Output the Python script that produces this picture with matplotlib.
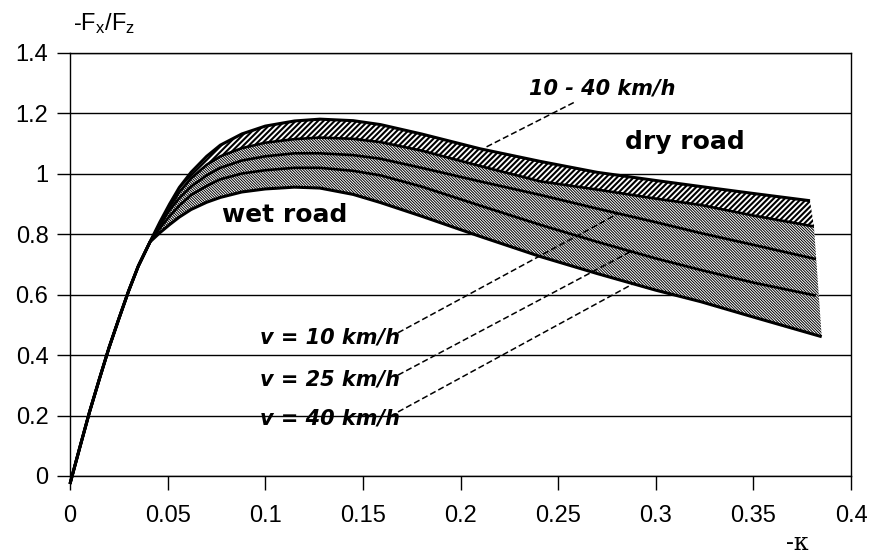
import numpy as np
import matplotlib.pyplot as plt

# gemeinsamer Anstieg aller Kurven
k_rise = [0, 0.005, 0.01, 0.015, 0.02, 0.025, 0.03, 0.035, 0.041]
mu_rise = [-0.026, 0.094, 0.212, 0.32, 0.425, 0.52, 0.612, 0.695, 0.775]

# Stuetzstellen nach dem Auseinanderlaufen
k_band = [0.046, 0.051, 0.056, 0.062, 0.07, 0.077, 0.088, 0.1, 0.115, 0.128,
          0.145, 0.159, 0.18, 0.21, 0.241, 0.27, 0.3, 0.323, 0.35]

dry_top = [0.84, 0.9, 0.955, 1.005, 1.058, 1.095, 1.132, 1.158, 1.175, 1.181,
           1.176, 1.163, 1.132, 1.083, 1.041, 1.005, 0.978, 0.958, 0.935]
dry_bot = [0.835, 0.89, 0.94, 0.985, 1.03, 1.058, 1.085, 1.103, 1.115, 1.12,
           1.116, 1.105, 1.077, 1.026, 0.975, 0.948, 0.918, 0.897, 0.862]
wet_10 = [0.83, 0.88, 0.92, 0.958, 0.995, 1.02, 1.044, 1.058, 1.068, 1.068,
          1.062, 1.05, 1.02, 0.975, 0.93, 0.885, 0.84, 0.804, 0.765]
wet_25 = [0.82, 0.86, 0.895, 0.93, 0.96, 0.982, 1.001, 1.012, 1.02, 1.02,
          1.01, 0.995, 0.958, 0.895, 0.831, 0.775, 0.72, 0.682, 0.64]
wet_40 = [0.805, 0.832, 0.857, 0.882, 0.906, 0.922, 0.94, 0.95, 0.956, 0.953,
          0.932, 0.905, 0.86, 0.793, 0.726, 0.67, 0.615, 0.577, 0.526]

# Endpunkte der Kurven
k_end = [0.379, 0.381, 0.382, 0.382, 0.385]
mu_end = [0.911, 0.826, 0.718, 0.597, 0.461]

x_ticks = [0, 0.05, 0.1, 0.15, 0.2, 0.25, 0.3, 0.35, 0.4]
x_labels = ['0', '0.05', '0.1', '0.15', '0.2', '0.25', '0.3', '0.35', '0.4']
y_ticks = [0, 0.2, 0.4, 0.6, 0.8, 1.0, 1.2, 1.4]
y_labels = ['0', '0.2', '0.4', '0.6', '0.8', '1', '1.2', '1.4']

# Beschriftungen und Hinweislinien (Start, Ende)
lab_v = ['v = 10 km/h', 'v = 25 km/h', 'v = 40 km/h']
lab_v_pos = [(0.133, 0.439), (0.133, 0.301), (0.133, 0.169)]
lead_v = [((0.168, 0.474), (0.280, 0.866)),
          ((0.168, 0.334), (0.2886, 0.748)),
          ((0.168, 0.212), (0.2895, 0.640))]
lead_dry = ((0.258, 1.236), (0.212, 1.085))

curves = [dry_top, dry_bot, wet_10, wet_25, wet_40]
kk = []
mm = []
for i, c in enumerate(curves):
    kk.append(np.array(k_rise + k_band + [k_end[i]]))
    mm.append(np.array(mu_rise + c + [mu_end[i]]))

plt.rcParams['font.family'] = ['Liberation Sans', 'DejaVu Sans']
plt.rcParams['mathtext.default'] = 'regular'

fig = plt.figure(figsize=(8.85, 5.56), dpi=100)
ax = fig.add_axes([0.0791, 0.1439, 0.8825, 0.7608])

n0 = len(k_rise) - 1


def band(a, b, hatch, hlw):
    x = np.concatenate([kk[a][n0:], kk[b][n0:][::-1]])
    y = np.concatenate([mm[a][n0:], mm[b][n0:][::-1]])
    p = ax.fill(x, y, facecolor='white', edgecolor='black', hatch=hatch,
                linewidth=0, zorder=2)[0]
    if hasattr(p, 'set_hatch_linewidth'):
        p.set_hatch_linewidth(hlw)


plt.rcParams['hatch.linewidth'] = 1.0
band(0, 1, '//////', 1.5)
band(1, 4, '\\' * 12, 0.7)

for i in range(5):
    lw = 2.2 if i in (0, 4) else 1.9
    ax.plot(kk[i], mm[i], color='black', linewidth=lw, zorder=4,
            clip_on=False, solid_capstyle='butt', solid_joinstyle='round')

# Hinweislinien
for (p0, p1) in lead_v + [lead_dry]:
    ax.plot([p0[0], p1[0]], [p0[1], p1[1]], color='black', linewidth=1.1,
            linestyle=(0, (4, 2)), zorder=3)

lab_font = dict(family='DejaVu Sans', fontweight='bold', color='black')
for t, (x, y) in zip(lab_v, lab_v_pos):
    ax.text(x, y, t, fontsize=15, style='italic', ha='center',
            va='baseline', zorder=5, **lab_font)
ax.text(0.2725, 1.262, '10 - 40 km/h', fontsize=15, style='italic',
        ha='center', va='baseline', zorder=5, **lab_font)
ax.text(0.315, 1.082, 'dry road', fontsize=18, ha='center', va='baseline',
        zorder=5, **lab_font)
ax.text(0.110, 0.839, 'wet road', fontsize=18, ha='center', va='baseline',
        zorder=5, **lab_font)

ax.set_xlim(0, 0.4)
ax.set_ylim(0, 1.4)
ax.set_xticks(x_ticks)
ax.set_xticklabels(x_labels)
ax.set_yticks(y_ticks)
ax.set_yticklabels(y_labels)
ax.tick_params(axis='both', direction='out', labelsize=17, color='black',
               width=1.0)
ax.tick_params(axis='x', length=10, pad=11)
ax.tick_params(axis='y', length=9.5, pad=6)
ax.yaxis.grid(True, color='black', linewidth=1.0)
ax.set_axisbelow(True)
for s in ax.spines.values():
    s.set_color('black')
    s.set_linewidth(1.0)

ax.text(0.004, 1.054, '-F$_x$/F$_z$', transform=ax.transAxes, fontsize=17,
        ha='left', va='baseline')
ax.text(0.931, -0.175, '-κ', transform=ax.transAxes, fontsize=17,
        family='DejaVu Serif', ha='center', va='baseline')

plt.savefig('out.png', dpi=100)
